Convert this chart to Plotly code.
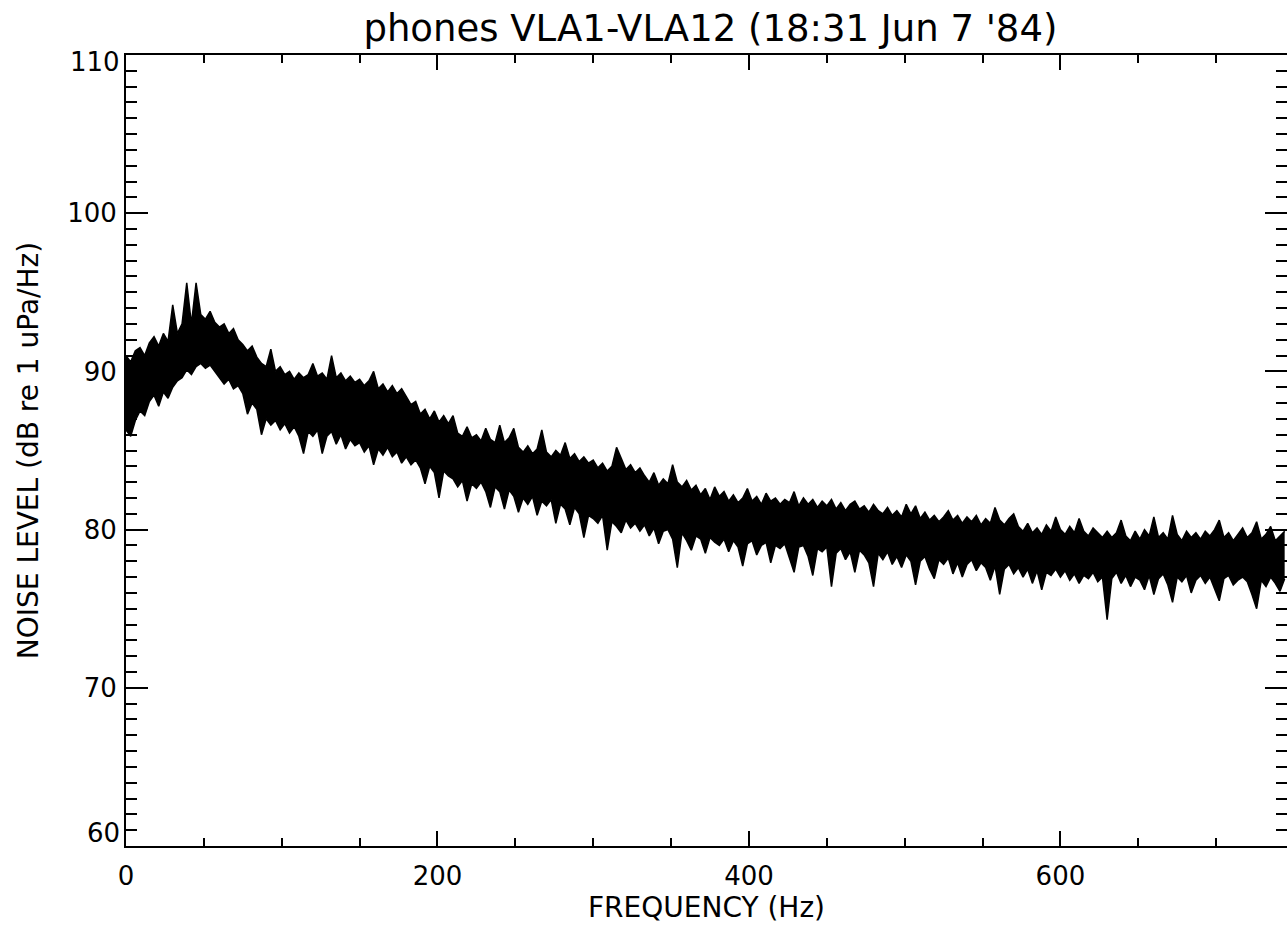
import plotly.graph_objects as go

# Frequency grid of the spectrum (Hz)
freq = list(range(0, 745, 3))

# Upper edge of the band of hydrophone spectra (dB re 1 uPa/Hz)
upper = [
    91.0, 90.6, 91.3, 91.5, 91.0, 91.8, 92.2, 91.6, 92.4, 91.9,
    94.2, 92.4, 93.0, 95.6, 93.0, 95.6, 93.6, 93.3, 93.8, 93.1,
    92.8, 93.0, 92.4, 92.7, 92.0, 91.7, 91.3, 91.6, 90.9, 90.5,
    90.3, 91.4, 90.0, 90.3, 89.8, 90.0, 89.5, 89.9, 89.6, 89.8,
    90.5, 89.7, 89.9, 89.5, 91.0, 89.6, 89.9, 89.4, 89.7, 89.3,
    89.5, 89.1, 89.4, 90.0, 88.9, 89.2, 88.7, 89.1, 88.6, 88.9,
    88.4, 87.9, 88.1, 87.3, 87.6, 87.0, 87.5, 86.8, 87.2, 86.7,
    87.2, 86.1, 85.9, 86.5, 85.8, 86.0, 85.6, 86.4, 85.7, 85.5,
    86.6, 85.5, 85.8, 86.4, 85.2, 84.9, 85.3, 84.8, 85.1, 86.3,
    84.9, 84.6, 85.0, 84.7, 85.5, 84.5, 84.8, 84.3, 84.6, 84.2,
    84.4, 83.9, 84.2, 83.7, 84.0, 85.2, 84.5, 83.8, 84.1, 83.6,
    83.9, 83.4, 83.0, 83.6, 82.8, 83.2, 82.9, 84.1, 83.0, 82.7,
    83.1, 82.5, 82.8, 82.2, 82.6, 81.9, 82.7, 82.1, 82.4, 81.8,
    82.2, 81.7, 82.0, 82.6, 81.8, 82.1, 81.6, 82.3, 81.8, 82.0,
    81.6, 81.9, 81.7, 82.4, 81.5, 82.0, 81.6, 81.9, 81.4, 81.8,
    81.5, 81.9, 81.3, 81.7, 81.2, 81.6, 81.8, 81.3, 81.5, 81.1,
    81.6, 81.2, 81.0, 81.4, 80.9, 81.2, 80.8, 81.6, 81.0, 81.5,
    80.7, 81.1, 80.6, 80.9, 80.5, 80.8, 81.2, 80.6, 80.9, 80.4,
    80.8, 80.5, 80.9, 80.3, 80.7, 80.4, 81.4, 80.6, 80.3, 80.7,
    81.0, 80.2, 79.9, 80.4, 79.8, 80.1, 79.7, 80.3, 79.9, 80.8,
    80.0, 79.7, 80.2, 79.8, 80.7, 79.9, 79.6, 80.1, 79.8, 79.5,
    79.9, 79.5, 79.8, 80.6, 79.6, 79.3, 79.9, 79.4, 80.0, 79.6,
    80.8, 79.5, 79.8, 79.4, 80.9, 79.7, 79.3, 79.9, 79.5, 79.8,
    79.4, 79.9, 79.6, 80.0, 80.6, 79.5, 79.8, 79.3, 79.7, 80.1,
    79.5, 79.8, 80.5, 79.4, 79.7, 80.2, 79.3, 79.6, 79.9,
]

# Lower edge of the band (dB re 1 uPa/Hz)
lower = [
    86.3, 85.9, 86.9, 87.5, 87.2, 88.1, 88.5, 87.8, 88.7, 88.3,
    89.0, 89.4, 89.6, 90.1, 89.8, 90.3, 90.5, 90.2, 90.4, 90.0,
    89.6, 89.2, 89.5, 88.9, 89.1, 88.6, 87.3, 88.0, 87.6, 86.0,
    87.0, 86.6, 86.9, 86.3, 86.7, 86.1, 86.5, 85.9, 84.8, 86.2,
    85.9, 86.3, 84.8, 85.9, 86.2, 85.4, 86.0, 85.1, 85.7, 85.3,
    85.5, 84.9, 85.3, 84.1, 85.1, 84.7, 85.2, 84.6, 84.9, 84.2,
    84.6, 84.1, 84.4, 83.9, 82.9, 84.0, 83.6, 82.0, 83.7, 83.4,
    83.2, 82.7, 83.1, 81.8, 82.9, 82.6, 83.0, 82.4, 81.4, 82.7,
    82.4, 81.3, 82.5, 82.1, 81.1, 82.0, 81.6, 82.1, 80.9, 81.8,
    81.5, 81.9, 80.4, 81.6, 81.3, 80.3, 81.4, 81.0, 79.5, 80.9,
    80.7, 80.4, 80.9, 78.7, 80.5, 80.2, 79.8, 80.6, 80.1, 80.4,
    79.9, 80.3, 79.6, 80.1, 79.1, 79.9, 80.0, 79.4, 77.6, 79.8,
    79.3, 78.7, 79.6, 79.4, 78.5, 79.5, 79.2, 79.0, 79.4, 78.6,
    79.3, 78.9, 77.7, 79.1, 79.3, 78.4, 79.0, 79.2, 77.9, 79.0,
    78.8, 79.1, 78.2, 77.3, 78.9, 79.0, 78.3, 77.1, 78.8, 78.6,
    78.9, 76.4, 78.5, 78.8, 78.1, 78.6, 77.3, 78.7, 78.4, 77.9,
    76.4, 78.5, 78.1, 78.6, 77.8, 78.3, 77.6, 78.4, 78.0, 76.5,
    78.0, 78.3, 77.5, 76.9, 78.1, 77.8, 78.2, 77.2, 77.9, 77.0,
    77.8, 78.1, 77.4, 77.9, 77.6, 76.8, 77.7, 75.9, 77.5, 77.8,
    77.2, 77.6, 77.0, 77.5, 76.6, 77.4, 76.2, 77.3, 77.1, 77.5,
    77.0, 77.4, 76.8, 77.2, 76.6, 77.1, 76.9, 77.3, 76.7, 77.0,
    74.3, 76.9, 77.3, 76.6, 77.1, 76.4, 77.0, 76.8, 76.2, 77.1,
    75.9, 76.9, 77.2, 76.5, 75.4, 77.0, 76.7, 77.1, 76.0, 76.8,
    77.1, 76.6, 77.0, 76.3, 75.5, 76.9, 77.1, 76.5, 76.8, 77.0,
    76.7, 75.9, 75.0, 76.8, 76.4, 77.0, 76.6, 76.1, 76.9,
]

x_ticks = [0, 200, 400, 600]
x_tick_labels = ["0", "200", "400", "600"]
y_ticks = [60, 70, 80, 90, 100, 110]
y_tick_labels = ["", "70", "80", "90", "100", ""]

FONT = "DejaVu Sans"
INK = "black"


def txt(size):
    return dict(family=FONT, size=size, color=INK)


fig = go.Figure()

fig.add_trace(go.Scatter(
    x=freq, y=lower, mode="lines",
    line=dict(color=INK, width=1.5),
    hoverinfo="skip", showlegend=False,
))
fig.add_trace(go.Scatter(
    x=freq, y=upper, mode="lines",
    line=dict(color=INK, width=1.5),
    fill="tonexty", fillcolor=INK,
    hoverinfo="skip", showlegend=False,
))
# empty trace that carries the right-hand tick axis
fig.add_trace(go.Scatter(x=[], y=[], yaxis="y2", showlegend=False, hoverinfo="skip"))

fig.update_layout(
    width=1287, height=930,
    margin=dict(l=126, r=0, t=55, b=84),
    paper_bgcolor="white", plot_bgcolor="white",
    font=txt(26),
    title=dict(
        text="phones VLA1-VLA12 (18:31 Jun 7 '84)",
        font=txt(37),
        xref="container", x=0.552, xanchor="center",
        yref="container", y=1 - 28 / 930, yanchor="middle",
    ),
    xaxis=dict(
        range=[0, 745.5], showgrid=False, zeroline=False,
        showline=True, linecolor=INK, linewidth=2, mirror="ticks",
        ticks="inside", ticklen=15, tickwidth=1.5, tickcolor=INK,
        tickmode="array", tickvals=x_ticks, ticktext=x_tick_labels,
        tickfont=txt(26),
        ticklabelstandoff=6,
        minor=dict(dtick=50, tick0=0, ticks="inside", ticklen=8,
                   tickwidth=1.5, tickcolor=INK, showgrid=False),
        title=dict(text="FREQUENCY (Hz)", font=txt(28), standoff=6),
    ),
    yaxis=dict(
        range=[60, 110], showgrid=False, zeroline=False,
        showline=True, linecolor=INK, linewidth=2,
        ticks="inside", ticklen=22, tickwidth=2, tickcolor=INK,
        tickmode="array", tickvals=y_ticks, ticktext=y_tick_labels,
        tickfont=txt(26),
        ticklabelstandoff=2,
        minor=dict(dtick=1, tick0=60, ticks="inside", ticklen=11,
                   tickwidth=1.5, tickcolor=INK, showgrid=False),
        title=dict(text="NOISE LEVEL (dB re 1 uPa/Hz)", font=txt(28), standoff=20),
    ),
    yaxis2=dict(
        range=[60, 110], overlaying="y", side="right", anchor="x",
        showgrid=False, zeroline=False, showline=False,
        ticks="inside", ticklen=22, tickwidth=2, tickcolor=INK,
        dtick=10, tick0=60, showticklabels=False,
        minor=dict(dtick=1, tick0=60, ticks="inside", ticklen=11,
                   tickwidth=1.5, tickcolor=INK, showgrid=False),
    ),
)

# end labels of the level axis sit inside the frame, flush with the axis lines
fig.add_annotation(text="110", x=0, xref="paper", y=110, yref="y",
                   xanchor="right", yanchor="top", xshift=-4, yshift=10,
                   showarrow=False, font=txt(26))
fig.add_annotation(text="60", x=0, xref="paper", y=60, yref="y",
                   xanchor="right", yanchor="bottom", xshift=-4, yshift=-4,
                   showarrow=False, font=txt(26))

fig.write_html("out.html")
